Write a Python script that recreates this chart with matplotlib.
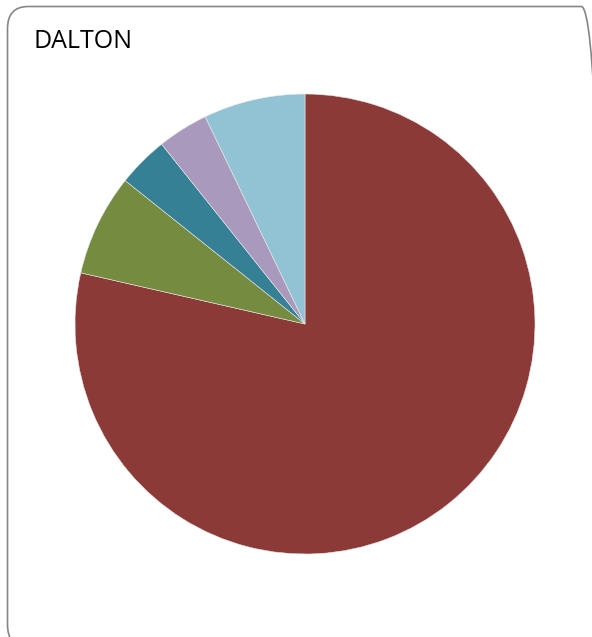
import matplotlib
matplotlib.use("Agg")
import matplotlib.pyplot as plt
from matplotlib.patches import FancyBboxPatch

title = "DALTON"
categories = ["A", "B", "C", "D", "E"]
values = [22, 2, 1, 1, 2]
colors = ["#8C3A38", "#758C40", "#358095", "#A99ABD", "#92C3D4"]

W, H = 592, 637
fig = plt.figure(figsize=(W / 100, H / 100), dpi=100, facecolor="white")

# rounded chart frame, running off the right and bottom edges
x0, x1 = 7.5, 602
y_top, y_bot = 6.5, 647
frame = FancyBboxPatch((x0 / W, (H - y_bot) / H), (x1 - x0) / W, (y_bot - y_top) / H,
                       boxstyle="round,pad=0,rounding_size=0.035",
                       transform=fig.transFigure, facecolor="none",
                       edgecolor="#868686", linewidth=1.2, zorder=5)
fig.patches.append(frame)

cx, cy, r = 305, 324, 230
ax = fig.add_axes([(cx - r) / W, (H - cy - r) / H, 2 * r / W, 2 * r / H])
ax.pie(values, colors=colors, startangle=90, counterclock=False, radius=1,
       wedgeprops=dict(edgecolor="#E8E8E8", linewidth=0.4))
ax.set_xlim(-1, 1)
ax.set_ylim(-1, 1)
ax.axis("off")

fig.text(33 / W, 1 - 41 / H, title, fontsize=18, family="Open Sans",
         va="center", ha="left", color="black")

fig.savefig("out.png", dpi=100, facecolor="white")
